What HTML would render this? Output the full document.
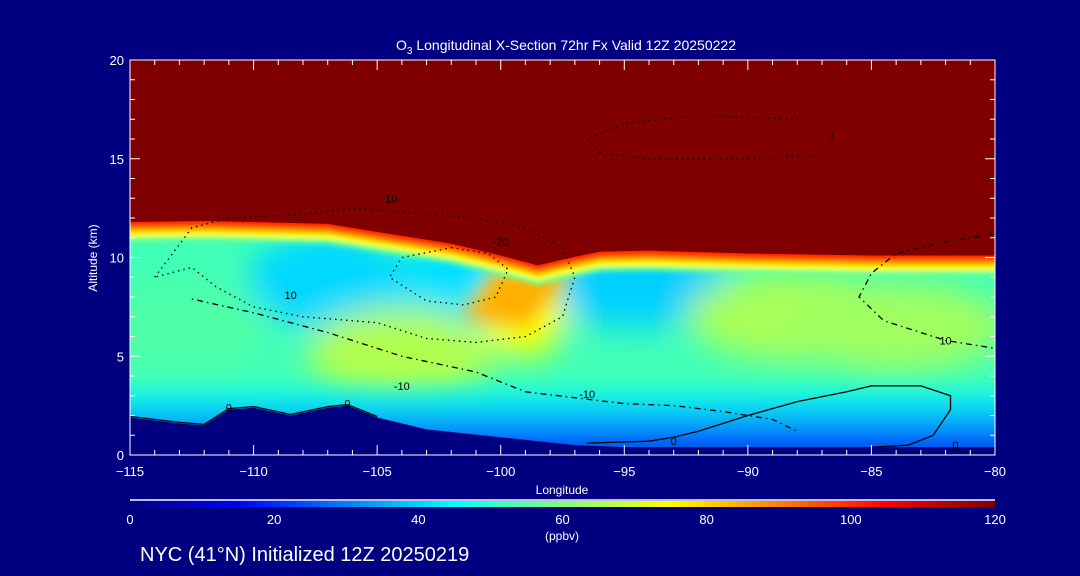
<!DOCTYPE html>
<html><head><meta charset="utf-8"><style>
html,body{margin:0;padding:0;background:#000080;}
svg{display:block;font-family:"Liberation Sans",sans-serif;}
</style></head><body>
<svg id="chart" width="1080" height="576" viewBox="0 0 1080 576">
<defs>
<filter id="blur" x="-50%" y="-50%" width="200%" height="200%"><feGaussianBlur stdDeviation="16"/></filter>
<filter id="blur2" x="-20%" y="-20%" width="140%" height="140%"><feGaussianBlur stdDeviation="2.5"/></filter>
<filter id="blur3" x="-50%" y="-50%" width="200%" height="200%"><feGaussianBlur stdDeviation="9"/></filter>
<filter id="blur4" x="-10%" y="-50%" width="120%" height="200%"><feGaussianBlur stdDeviation="6"/></filter>
<clipPath id="plotclip"><rect x="130" y="60" width="865" height="395"/></clipPath>
<linearGradient id="cbar" x1="0" x2="1" y1="0" y2="0">
<stop offset="0" stop-color="#000080"/><stop offset="0.125" stop-color="#0000ff"/>
<stop offset="0.375" stop-color="#00ffff"/><stop offset="0.5" stop-color="#80ff80"/>
<stop offset="0.625" stop-color="#ffff00"/><stop offset="0.75" stop-color="#ff8000"/>
<stop offset="0.875" stop-color="#ff0000"/><stop offset="1" stop-color="#800000"/>
</linearGradient>
<linearGradient id="lowgrad" x1="0" x2="0" y1="0" y2="1">
<stop offset="0" stop-color="#00ffff" stop-opacity="0"/>
<stop offset="0.35" stop-color="#00d8ff" stop-opacity="0.8"/>
<stop offset="0.8" stop-color="#0070ff"/>
<stop offset="1" stop-color="#0020e0"/>
</linearGradient>
</defs>
<g id="plot" clip-path="url(#plotclip)"></g>
<g id="axes"></g>
<text x="566" y="50" fill="#fff" font-size="14" text-anchor="middle">O<tspan font-size="10" dy="4">3</tspan><tspan dy="-4"> Longitudinal X-Section 72hr  Fx Valid 12Z 20250222</tspan></text>
<text x="562" y="494" fill="#fff" font-size="12" text-anchor="middle">Longitude</text>
<text x="97" y="258" fill="#fff" font-size="12" text-anchor="middle" transform="rotate(-90 97 258)">Altitude (km)</text>
<line x1="130" y1="500" x2="995" y2="500" stroke="#fff" stroke-width="1.5"/>
<rect x="130" y="501" width="865" height="6" fill="url(#cbar)"/>
<g id="cbticks"></g>
<text x="562" y="540" fill="#fff" font-size="12" text-anchor="middle">(ppbv)</text>
<text x="140" y="561" fill="#fff" font-size="20">NYC (41°N) Initialized 12Z 20250219</text>
</svg>
<script>
const xTicks=[-115,-110,-105,-100,-95,-90,-85,-80];
const yTicks=[0,5,10,15,20];
const cbLabels=[0,20,40,60,80,100,120];
const tropoLon=[-115,-112,-110,-107,-105,-102,-100,-98.5,-97.5,-96,-94,-90,-85,-80];
const tropoAlt=[11.8,11.85,11.8,11.7,11.3,10.7,10.1,9.6,9.9,10.3,10.35,10.2,10.1,10.1];
const terrLon=[-115,-113,-112,-111,-110,-108.5,-107,-106.2,-105,-103,-100,-97,-95,-90,-85,-80];
const terrAlt=[1.9,1.6,1.5,2.3,2.4,2.0,2.4,2.5,1.9,1.3,0.9,0.5,0.4,0.4,0.4,0.4];
const blobLon=[-107,-101,-94.5,-104,-88,-99,-84,-113];
const blobAlt=[8.8,8.8,8.7,5.2,7.0,7.0,6.5,6.5];
const blobColor=["#00d8ff","#00e0ff","#00d0ff","#b0ff50","#a8ff58","#ffff00","#a0ff60","#50ffa8"];
const c10Lon=[-114,-112.5,-111,-108,-106,-104,-101,-99,-97.5,-97,-97.5,-99,-101,-103,-105,-108,-110,-111.5,-112.5,-114];
const c10Alt=[9,11.5,12,12.2,12.5,12.3,12,11.5,10.5,9,7,6,5.7,5.9,6.7,7,7.5,8.5,9.5,9];
const c10bLon=[-112.5,-110,-107,-104,-101,-99,-97,-95,-93,-91,-89,-88];
const c10bAlt=[7.9,7.2,6.2,5.0,4.2,3.2,2.9,2.6,2.5,2.2,1.8,1.2];
const c20Lon=[-102,-100.5,-99.7,-100.2,-101.5,-103,-104.5,-104,-102];
const c20Alt=[10.5,10.2,9.4,8.0,7.6,7.8,9.0,10,10.5];
const cRightLon=[-80,-82,-84,-85,-85.5,-84.5,-82,-80];
const cRightAlt=[11.2,10.8,10.2,9.2,8.0,6.8,5.8,5.4];
const zeroLon=[-96.5,-94,-93,-92,-90,-88,-86,-85,-83,-81.8,-81.8,-82.5,-83.5,-85];
const zeroAlt=[0.6,0.7,0.9,1.2,2.0,2.7,3.2,3.5,3.5,3.0,2.3,1.0,0.5,0.4];
const topLon=[-96,-94,-90,-87,-86.5,-88,-92,-95,-96.5,-96];
const topAlt=[15.3,15,15,15.2,16.2,17,17.2,16.8,16,15.3];

const NS="http://www.w3.org/2000/svg";
const X=lon=>130+(lon+115)/35*865;
const Y=alt=>455-alt/20*395;
function el(tag,attrs,parent){const e=document.createElementNS(NS,tag);for(const k in attrs)e.setAttribute(k,attrs[k]);parent.appendChild(e);return e;}
const plot=document.getElementById('plot');
const axes=document.getElementById('axes');

let r=el('rect',{x:130,y:60,width:865,height:395,fill:'#40ffb8'},plot);


const bg=el('g',{filter:'url(#blur)'},plot);
blobLon.forEach((lon,i)=>{
  const big=(i==4||i==6);
  const c=el('ellipse',{cx:X(lon),cy:Y(blobAlt[i]),rx:i==5?40:(big?110:(i<2?80:95)),ry:i==5?40:(i<2?50:45),fill:blobColor[i]},bg);
  
  
});
const lowG=el('g',{filter:'url(#blur4)'},plot);
let lg=el('rect',{x:100,y:Y(4.0),width:920,height:Y(0)-Y(4.0),fill:'url(#lowgrad)'},lowG);



// plume
let plume=el('polygon',{points:[[-101.5,7.0],[-100,9.5],[-98,9.8],[-97.2,9.9],[-97.8,8.2],[-99,6.5]].map(p=>X(p[0])+','+Y(p[1])).join(' '),fill:'#ffb000',filter:'url(#blur3)'},plot);



const tpPts=(off)=>tropoLon.map((l,i)=>X(l)+','+(Y(tropoAlt[i])+off)).join(' ');
const last=tropoAlt.length-1;
const band=el('g',{filter:'url(#blur2)'},plot);
[[20,'#70ff90'],[15,'#ffff00'],[10,'#ffa000'],[5,'#ff2000']].forEach(([off,col])=>{
  const p=el('polygon',{points:'110,40 110,'+(Y(tropoAlt[0])+off)+' '+tpPts(off)+' 1010,'+(Y(tropoAlt[last])+off)+' 1010,40',fill:col},band);
  
  
});
let strat=el('polygon',{points:'110,40 110,'+Y(tropoAlt[0])+' '+tpPts(0)+' 1010,'+Y(tropoAlt[last])+' 1010,40',fill:'#800000'},plot);



const terr=terrLon.map((l,i)=>X(l)+','+Y(terrAlt[i])).join(' ');
let tp=el('polygon',{points:'120,470 120,'+Y(terrAlt[0])+' '+terr+' 1005,'+Y(0.4)+' 1005,470',fill:'#000080'},plot);



function line(lons,alts,dash,name){
  const p=el('polyline',{points:lons.map((l,i)=>X(l)+','+Y(alts[i])).join(' '),fill:'none',stroke:'#000','stroke-width':1.3,'stroke-dasharray':dash},plot);
  
  
}
line(c10Lon,c10Alt,'1.5 4','contour-10');
line(c10bLon,c10bAlt,'1.5 4 6 4','contour-10-low');
line(c20Lon,c20Alt,'1.5 4','contour-20');
line(cRightLon,cRightAlt,'6 4 1.5 4','contour-10-east');
line(topLon,topAlt,'1.5 4','contour-upper');
line(zeroLon,zeroAlt,'','contour-0');
line(terrLon.slice(0,9),terrAlt.slice(0,9).map(a=>a+0.05),'','contour-0-terrain');
[['10',-108.5,8.1],['-20',-100,10.8],['-10',-104,3.5],['-10',-96.5,3.1],['10',-82,5.8],['0',-93,0.7],['0',-81.6,0.5],['0',-111,2.4],['0',-106.2,2.6],['-10',-104.5,13]].forEach(t=>{
  const tx=el('text',{x:X(t[1]),y:Y(t[2])+4,'font-size':11,fill:'#000','text-anchor':'middle'},plot);
  tx.textContent=t[0];
  
  
});

let fr=el('rect',{x:130,y:60,width:865,height:395,fill:'none',stroke:'#fff','stroke-width':1},axes);


for(let l=-115;l<=-80;l++){
  const major=xTicks.includes(l);
  el('line',{x1:X(l),x2:X(l),y1:455,y2:455-(major?10:5),stroke:'#fff'},axes);
  el('line',{x1:X(l),x2:X(l),y1:60,y2:60+(major?10:5),stroke:'#fff'},axes);
}
xTicks.forEach(l=>{
  const t=el('text',{x:X(l),y:476,fill:'#fff','font-size':13,'text-anchor':'middle'},axes);
  t.textContent=(l<0?'\u2212':'')+Math.abs(l);
  
  
});
for(let a=0;a<=20;a++){
  const major=yTicks.includes(a);
  el('line',{x1:130,x2:130+(major?10:5),y1:Y(a),y2:Y(a),stroke:'#fff'},axes);
  el('line',{x1:995,x2:995-(major?10:5),y1:Y(a),y2:Y(a),stroke:'#fff'},axes);
}
yTicks.forEach(a=>{
  const t=el('text',{x:124,y:Y(a)+5,fill:'#fff','font-size':13,'text-anchor':'end'},axes);
  t.textContent=a;
  
  
});
const cb=document.getElementById('cbticks');
cbLabels.forEach(v=>{
  const t=el('text',{x:130+v/120*865,y:524,fill:'#fff','font-size':13,'text-anchor':'middle'},cb);
  t.textContent=v;
  
  
});
</script>
</body></html>
